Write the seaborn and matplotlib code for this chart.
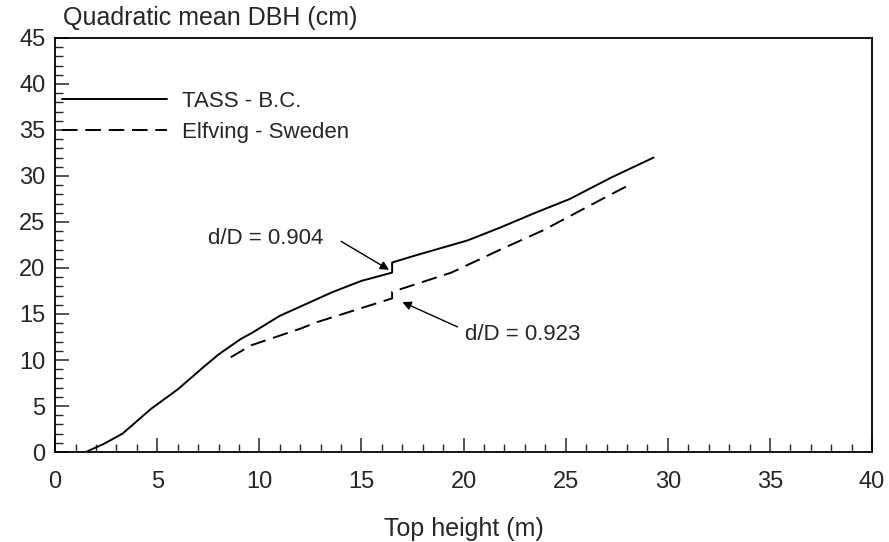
import pandas as pd
import matplotlib
matplotlib.use("Agg")
import matplotlib.pyplot as plt
from matplotlib.ticker import MultipleLocator
import seaborn as sns

# TASS - B.C. curve (top height m, quadratic mean DBH cm)
tass_h = [1.5, 2.4, 3.3, 4.7, 6.0, 7.3, 8.0, 9.1, 9.6, 11.0, 12.0, 13.6, 15.0,
          16.5, 16.5, 17.7, 20.2, 21.8, 23.4, 25.2, 27.2, 29.3]
tass_d = [0.0, 0.9, 2.0, 4.7, 6.8, 9.3, 10.6, 12.3, 12.9, 14.8, 15.8, 17.4, 18.6,
          19.5, 20.6, 21.4, 23.0, 24.4, 25.9, 27.5, 29.8, 32.0]

# Elfving - Sweden curve
elf_h = [8.6, 9.6, 12.0, 12.8, 16.5, 16.5, 19.4, 21.8, 23.9, 26.7, 28.0]
elf_d = [10.3, 11.6, 13.4, 14.1, 16.7, 17.4, 19.5, 22.0, 24.1, 27.4, 28.9]

labels = ["TASS - B.C.", "Elfving - Sweden"]

# annotation text, text position, arrow start, arrow tip
notes = ["d/D = 0.904", "d/D = 0.923"]
note_xy = [(10.3, 23.2), (22.9, 12.8)]
arrow_from = [(14.0, 22.9), (19.7, 13.6)]
arrow_to = [(16.35, 19.8), (17.0, 16.3)]


def build_frame():
    """long form table of both curves"""
    a = pd.DataFrame({"h": tass_h, "d": tass_d, "model": labels[0]})
    b = pd.DataFrame({"h": elf_h, "d": elf_d, "model": labels[1]})
    return pd.concat([a, b], ignore_index=True)


def plot_curves(df: pd.DataFrame):
    sns.set_style("ticks")
    plt.rcParams["font.family"] = ["Liberation Sans", "DejaVu Sans"]

    fig = plt.figure(figsize=(8.89, 5.42), dpi=100)
    ax = fig.add_axes([0.062, 0.166, 0.919, 0.764])

    sns.lineplot(data=df, x="h", y="d", hue="model", style="model",
                 palette={labels[0]: "black", labels[1]: "black"},
                 dashes={labels[0]: "", labels[1]: (8, 4)},
                 estimator=None, sort=False, linewidth=1.4, ax=ax)

    ax.set_xlim(0, 40)
    ax.set_ylim(0, 45)
    ax.xaxis.set_major_locator(MultipleLocator(5))
    ax.xaxis.set_minor_locator(MultipleLocator(1))
    ax.yaxis.set_major_locator(MultipleLocator(5))
    ax.yaxis.set_minor_locator(MultipleLocator(1))
    ax.tick_params(which="major", direction="in", length=10, width=1.1,
                   labelsize=17, top=False, right=False)
    ax.tick_params(which="minor", direction="in", length=5.5, width=1.0,
                   top=False, right=False)
    ax.tick_params(axis="x", which="major", pad=14)
    ax.tick_params(axis="y", which="major", pad=7)
    for s in ax.spines.values():
        s.set_linewidth(1.3)
        s.set_color("black")

    ax.set_xlabel("Top height (m)", fontsize=18, labelpad=17)
    ax.set_ylabel("")
    fig.text(0.071, 0.966, "Quadratic mean DBH (cm)", fontsize=18,
             ha="left", va="center")

    handles, _ = ax.get_legend_handles_labels()
    ax.legend(handles=handles, labels=labels, loc="upper left",
              bbox_to_anchor=(0.0086, 0.873), frameon=False, fontsize=16,
              handlelength=4.7, handletextpad=0.7, labelspacing=0.45,
              borderpad=0, borderaxespad=0)

    for txt, pos, p0, p1 in zip(notes, note_xy, arrow_from, arrow_to):
        ax.text(pos[0], pos[1], txt, fontsize=16, ha="center", va="center")
        ax.annotate("", xy=p1, xytext=p0,
                    arrowprops=dict(arrowstyle="-|>", color="black", lw=1.0,
                                    mutation_scale=13, shrinkA=0, shrinkB=0))

    fig.savefig("out.png", dpi=100)


if __name__ == "__main__":
    plot_curves(build_frame())
